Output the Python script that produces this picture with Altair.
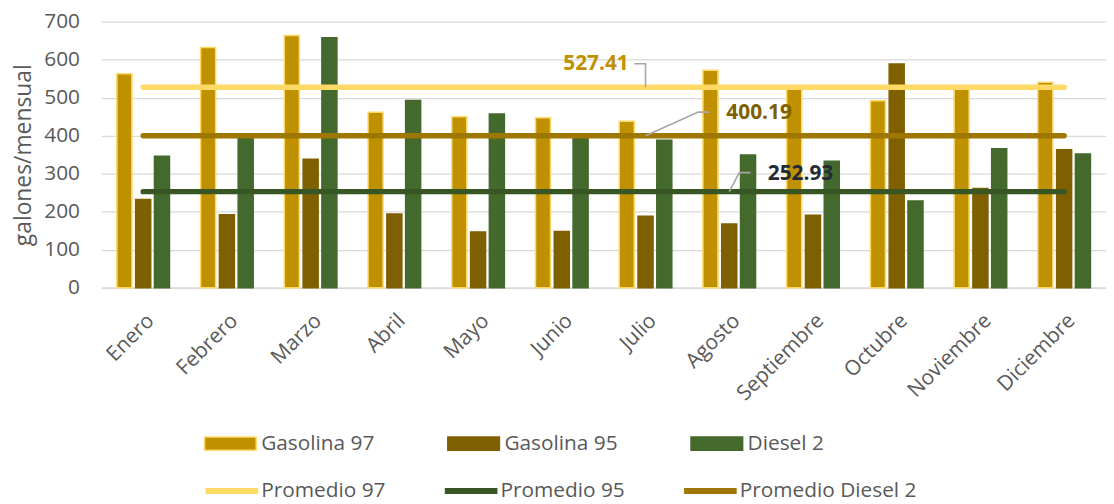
import altair as alt
import pandas as pd

# ---------------- data ----------------
meses = ["Enero", "Febrero", "Marzo", "Abril", "Mayo", "Junio", "Julio",
         "Agosto", "Septiembre", "Octubre", "Noviembre", "Diciembre"]
gasolina_97 = [563, 632, 664, 462, 450, 447, 438, 572, 530, 492, 530, 541]
gasolina_95 = [232, 192, 338, 194, 147, 148, 188, 168, 191, 589, 261, 363]
diesel_2 = [346, 396, 658, 493, 457, 398, 388, 349, 333, 228, 366, 352]

series_barras = ["Gasolina 97", "Gasolina 95", "Diesel 2"]
series_promedio = ["Promedio 97", "Promedio 95", "Promedio Diesel 2"]
valores_promedio = [527.41, 252.93, 400.19]
etiquetas_promedio = ["527.41", "252.93", "400.19"]
y_ticks = [0, 100, 200, 300, 400, 500, 600, 700]

# ---------------- styles ----------------
colores_barras = ["#BF9000", "#7F6000", "#44692C"]
bordes_barras = ["#FFD966", "#7F6000", "#44692C"]
colores_promedio = ["#FFD966", "#375623", "#9E7700"]
color_etiquetas = ["#BF9000", "#222A35", "#7F6000"]
FONT = "Open Sans"
GRIS = "#595959"

W, H = 1012, 268

# ---------------- tables ----------------
rows = []
for serie, vals in zip(series_barras, [gasolina_97, gasolina_95, diesel_2]):
    for m, v in zip(meses, vals):
        rows.append({"mes": m, "serie": serie, "valor": v})
df_barras = pd.DataFrame(rows)

rows = []
for serie, v in zip(series_promedio, valores_promedio):
    for m in meses:
        rows.append({"mes": m, "serie": serie, "valor": v})
df_prom = pd.DataFrame(rows)

# annotation anchors: month of the leader foot and the average value
idx = {m: i + 0.5 for i, m in enumerate(meses)}
anc = [("Julio", 527.41), ("Agosto", 252.93), ("Julio", 400.19)]
# leader shapes (offsets in month units / value units)
leader_shapes = [
    [(0.0, 0.0), (0.0, 62.0), (-0.135, 62.0)],
    [(0.0, 0.0), (0.12, 50.0), (0.255, 50.0)],
    [(0.0, 0.0), (0.63, 62.0), (0.765, 62.0)],
]
rows = []
for k, ((m, v), shape) in enumerate(zip(anc, leader_shapes)):
    for j, (dxm, dyv) in enumerate(shape):
        rows.append({"id": k, "o": j, "pos": idx[m] + dxm, "valor": v + dyv})
df_leader = pd.DataFrame(rows)

text_pos = [(-0.2, 62.0, "right"), (0.46, 47.0, "left"), (0.965, 60.0, "left")]
rows = []
for k, ((m, v), (dxm, dyv, al)) in enumerate(zip(anc, text_pos)):
    rows.append({"id": k, "pos": idx[m] + dxm, "valor": v + dyv,
                 "txt": etiquetas_promedio[k], "al": al})
df_text = pd.DataFrame(rows)

# ---------------- chart ----------------
y_scale = alt.Scale(domain=[0, 700], nice=False)
y_axis = alt.Axis(values=y_ticks, title="galones/mensual",
                  titleFont=FONT, titleFontSize=23, titleFontWeight="normal",
                  titleColor=GRIS, titlePadding=8,
                  labelFont=FONT, labelFontSize=21, labelColor=GRIS,
                  labelPadding=22, ticks=False, tickSize=0, domain=False,
                  labelOverlap=False,
                  grid=True, gridColor="#D9D9D9", gridWidth=1.3)

x_band = alt.X("mes:N", sort=meses,
               scale=alt.Scale(paddingInner=0.327, paddingOuter=0.1635),
               axis=alt.Axis(title=None, labelAngle=-45, labelFont=FONT,
                             labelFontSize=21, labelColor=GRIS, labelPadding=22,
                             ticks=False, domain=True, domainColor="#D9D9D9",
                             domainWidth=1.3))

leg_bar = alt.Legend(orient="none", legendX=103, legendY=398, direction="horizontal",
                     columns=3, title=None, padding=0,
                     symbolType="M-1,-0.26H1V0.26H-1Z", symbolSize=2704,
                     symbolStrokeWidth=1.5, labelFont=FONT, labelFontSize=21,
                     labelColor=GRIS, labelOffset=4, columnPadding=70,
                     labelLimit=300, gridAlign="all")

bars = alt.Chart(df_barras).mark_bar(strokeWidth=1.5).encode(
    x=x_band,
    xOffset=alt.XOffset("serie:N", sort=series_barras,
                        scale=alt.Scale(paddingInner=0.2, paddingOuter=0.1)),
    y=alt.Y("valor:Q", scale=y_scale, axis=y_axis),
    fill=alt.Fill("serie:N", sort=series_barras,
                  scale=alt.Scale(domain=series_barras, range=colores_barras),
                  legend=leg_bar),
    stroke=alt.Stroke("serie:N", sort=series_barras,
                      scale=alt.Scale(domain=series_barras, range=bordes_barras),
                      legend=leg_bar),
)

leg_line = alt.Legend(orient="none", legendX=102, legendY=443, direction="horizontal",
                      columns=3, title=None, padding=0,
                      symbolType="stroke", symbolSize=2809, symbolStrokeWidth=6,
                      labelFont=FONT, labelFontSize=21, labelColor=GRIS,
                      labelOffset=0, columnPadding=47, labelLimit=300,
                      gridAlign="each")

lines = alt.Chart(df_prom).mark_line(strokeWidth=5.5, strokeCap="round").encode(
    x=alt.X("mes:N", sort=meses),
    y=alt.Y("valor:Q", scale=y_scale, axis=y_axis),
    color=alt.Color("serie:N", sort=series_promedio,
                    scale=alt.Scale(domain=series_promedio, range=colores_promedio),
                    legend=leg_line),
)

base = alt.layer(bars, lines)

x_q = alt.X("pos:Q", scale=alt.Scale(domain=[0, 12], nice=False, zero=False), axis=None)

leaders = alt.Chart(df_leader).mark_line(color="#A6A6A6", strokeWidth=1.6).encode(
    x=x_q,
    y=alt.Y("valor:Q", scale=y_scale, axis=y_axis),
    detail="id:N",
    order="o:O",
)

texts = []
for k in range(3):
    t = alt.Chart(df_text[df_text["id"] == k]).mark_text(
        font=FONT, fontSize=21, fontWeight="bold", baseline="middle",
        align=df_text["al"][k], color=color_etiquetas[k],
    ).encode(x=x_q, y=alt.Y("valor:Q", scale=y_scale, axis=y_axis), text="txt:N")
    texts.append(t)

annot = alt.layer(leaders, *texts)

chart = alt.layer(base, annot).resolve_scale(x="independent").properties(
    width=W, height=H,
    autosize=alt.AutoSizeParams(type="none"),
    padding={"left": 94, "top": 12, "right": 0, "bottom": 216},
).configure_view(stroke=None)

chart.save("out.html", embed_options={"renderer": "svg", "actions": False})
